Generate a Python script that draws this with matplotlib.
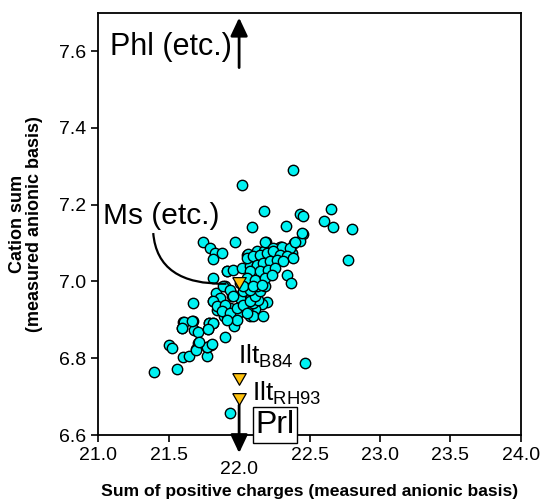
import matplotlib
matplotlib.use("Agg")
import matplotlib.pyplot as plt
from matplotlib.path import Path
from matplotlib.patches import PathPatch

plt.rcParams['font.family'] = ['Liberation Sans', 'DejaVu Sans']
plt.rcParams['mathtext.fontset'] = 'custom'
plt.rcParams['mathtext.rm'] = 'Liberation Sans'

# ---- data: sample points (sum of positive charges, cation sum) ----
x_vals = [
    21.396, 21.558, 21.499, 21.521, 21.605, 21.646, 21.774, 21.771, 21.803, 21.706,
    21.693, 21.596, 21.605, 21.669, 21.683, 21.706, 21.782, 21.787, 21.814, 21.674,
    21.899, 21.967, 21.936, 22.471, 21.746, 21.793, 21.829, 21.876, 21.812, 21.971,
    21.812, 22.018, 22.386, 22.180, 22.089, 22.331, 22.431, 22.456, 22.456, 22.436,
    22.391, 22.604, 22.656, 22.670, 22.800, 22.771, 22.191, 22.301, 22.338, 22.369,
    22.059, 22.198, 22.166, 22.075, 22.110, 22.059, 21.995, 21.941, 21.890, 21.850,
    21.813, 21.837, 21.916, 21.897, 21.946, 21.694, 21.770, 21.805, 21.715, 21.609,
    21.663, 21.592, 21.786, 21.817, 21.781, 21.852, 21.888, 21.935, 21.912, 21.994,
    22.054, 21.841, 21.959, 22.006, 22.077, 22.101, 22.136,
    22.061, 22.125, 22.177, 22.232, 22.291, 22.374, 22.338, 22.278,
    21.912, 21.959, 22.018, 22.077, 22.125, 22.172, 21.888, 21.935, 21.959,
    21.864, 21.817, 21.841, 21.900, 21.876, 21.935, 21.983, 22.030, 22.077, 22.113,
    22.148, 22.184, 22.006, 22.054, 22.101, 22.148, 22.196, 22.030, 22.077, 22.125,
    21.983, 21.912, 22.101, 22.172, 22.054,
    22.184, 22.243, 22.303, 22.362, 22.397, 22.445,
    22.054, 22.101, 22.148, 22.196, 22.243, 22.290, 22.338, 22.385, 22.125, 22.172,
    22.219, 22.267, 22.314, 22.077, 22.148, 22.207, 22.255, 22.054, 22.113, 22.184,
    22.231, 22.030, 22.101, 22.160,
]
y_vals = [
    6.765, 6.773, 6.835, 6.826, 6.804, 6.806, 6.806, 6.828, 6.835, 6.839,
    6.823, 6.878, 6.894, 6.898, 6.874, 6.868, 6.877, 6.891, 6.891, 6.943,
    6.854, 6.884, 6.657, 6.787, 7.102, 7.087, 7.074, 7.075, 7.058, 7.102,
    7.009, 7.250, 7.290, 7.183, 7.143, 7.145, 7.175, 7.170, 7.124, 7.106,
    7.101, 7.157, 7.189, 7.141, 7.136, 7.056, 7.103, 7.091, 7.017, 6.996,
    7.068, 6.947, 6.941, 6.910, 6.929, 6.926, 6.917, 6.917, 6.910, 6.930,
    6.948, 6.971, 7.026, 6.987, 6.961, 6.822, 6.829, 6.837, 6.841, 6.894,
    6.897, 6.878, 6.891, 6.891, 6.876, 6.944, 6.926, 6.930, 6.913, 6.917,
    6.926, 6.926, 6.965, 6.957, 6.970, 6.944, 6.952,
    7.071, 7.078, 7.078, 7.083, 7.091, 7.074, 7.065, 7.070,
    7.026, 7.030, 7.035, 7.039, 7.044, 7.048, 6.987, 6.978, 6.961,
    6.957, 6.948, 6.935, 6.939, 6.922, 6.917, 6.930, 6.939, 6.948, 6.961,
    6.974, 6.987, 6.996, 7.000, 7.004, 7.009, 7.017, 6.974, 6.978, 6.987,
    6.900, 6.900, 6.909, 6.909, 6.917,
    7.104, 7.087, 7.091, 7.087, 7.104, 7.126,
    7.061, 7.065, 7.070, 7.074, 7.078, 7.070, 7.065, 7.061, 7.043, 7.048,
    7.052, 7.057, 7.052, 7.026, 7.026, 7.030, 7.035, 7.009, 7.004, 7.009,
    7.017, 6.987, 6.987, 6.991,
]

# reference compositions (Ms, Ilt B84, Ilt RH93)
ref_x = [22.0, 22.0, 22.0]
ref_y = [7.0, 6.75, 6.70]

x_ticks = [21.0, 21.5, 22.0, 22.5, 23.0, 23.5, 24.0]
x_tick_labels = ["21.0", "21.5", "22.0", "22.5", "23.0", "23.5", "24.0"]
y_ticks = [6.6, 6.8, 7.0, 7.2, 7.4, 7.6]
y_tick_labels = ["6.6", "6.8", "7.0", "7.2", "7.4", "7.6"]

fig = plt.figure(figsize=(5.42, 5.0), dpi=100)
ax = fig.add_axes([0.1814, 0.13, 0.9607 - 0.1814, 0.9746 - 0.13])

ax.scatter(x_vals, y_vals, s=56, c='#00F2F2', edgecolors='black',
           linewidths=1.0, zorder=3)

# Ms curve
curve = Path([(21.39, 7.126), (21.42, 6.99), (21.91, 6.994)],
             [Path.MOVETO, Path.CURVE3, Path.CURVE3])
ax.add_patch(PathPatch(curve, fill=False, lw=1.6, edgecolor='black', zorder=4))

tri = [(-1, 0.577), (1, 0.577), (0, -1.155), (-1, 0.577)]
ax.scatter(ref_x, ref_y, s=125, marker=tri, c='#FFC20E', edgecolors='black',
           linewidths=0.9, zorder=5)

# arrows at 22.0
arrow_kw = dict(arrowstyle='-|>,head_length=0.55,head_width=0.26',
                mutation_scale=20, lw=2.0, color='black', shrinkA=0, shrinkB=0)
ax.annotate('', xy=(22.0, 7.687), xytext=(22.0, 7.557),
            arrowprops=arrow_kw, annotation_clip=False)
ax.annotate('', xy=(22.0, 6.553), xytext=(22.0, 6.678),
            arrowprops=arrow_kw, annotation_clip=False)

ax.text(21.084, 7.591, 'Phl (etc.)', fontsize=22, va='baseline', ha='left')
ax.text(21.034, 7.150, 'Ms (etc.)', fontsize=21.5, va='baseline', ha='left')
ax.text(21.995, 6.787, r'Ilt$_{\mathregular{B84}}$', fontsize=19,
        va='baseline', ha='left')
ax.text(22.095, 6.689, r'Ilt$_{\mathregular{RH93}}$', fontsize=19,
        va='baseline', ha='left')
ax.text(22.255, 6.626, 'Prl', fontsize=23, va='center', ha='center', zorder=6,
        clip_on=False,
        bbox=dict(boxstyle='square,pad=0.08', fc='white', ec='black', lw=1.0))

ax.set_xlim(21.0, 24.0)
ax.set_ylim(6.6, 7.7)
ax.set_xticks(x_ticks)
ax.set_xticklabels(x_tick_labels)
ax.set_yticks(y_ticks)
ax.set_yticklabels(y_tick_labels)
ax.tick_params(direction='out', length=5, width=1.2, labelsize=14, pad=4)
for sp in ax.spines.values():
    sp.set_linewidth(1.3)

ax.xaxis.get_major_ticks()[2].set_pad(13.5)

ax.set_xlabel('Sum of positive charges (measured anionic basis)',
              fontsize=12.6, fontweight='bold')
ax.xaxis.set_label_coords(0.5, -0.117)
ax.set_ylabel('Cation sum\n(measured anionic basis)', fontsize=13,
              fontweight='bold', linespacing=1.0)
ax.yaxis.set_label_coords(-0.131, 0.5)

fig.savefig('out.png', dpi=100)
